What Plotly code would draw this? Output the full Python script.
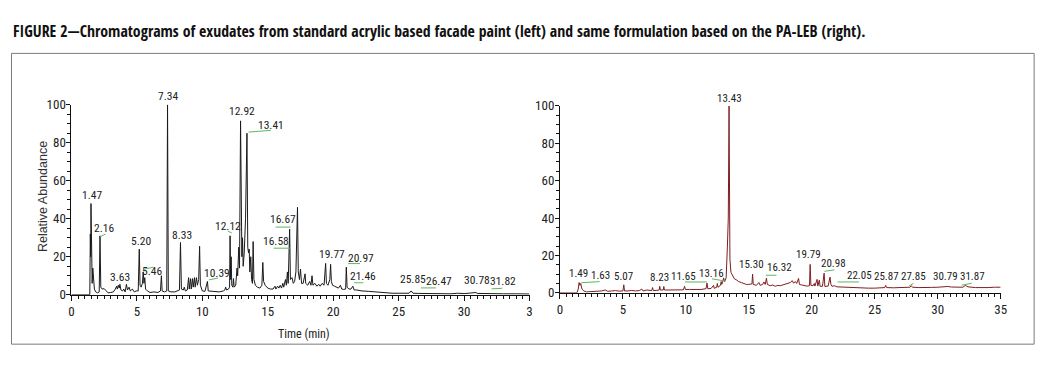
import plotly.graph_objects as go

# ---------------- data ----------------
title_text = ("FIGURE 2\u2014Chromatograms of exudates from standard acrylic based facade paint (left) "
              "and same formulation based on the PA-LEB (right).")

left_time = [0, 1.40, 1.44, 1.47, 1.49, 1.53, 1.58, 1.63, 1.68, 1.75, 1.85, 2.0, 2.12, 2.18, 2.24, 2.35, 2.5, 2.65,
             2.8, 3.0, 3.2, 3.35, 3.45, 3.5, 3.58, 3.65, 3.7, 3.78, 3.9, 4.0, 4.1, 4.2, 4.28, 4.4, 4.5, 4.65, 4.8,
             4.95, 5.1, 5.18, 5.24, 5.32, 5.42, 5.48, 5.54, 5.6, 5.66, 5.8, 6.0, 6.3, 6.6, 6.8, 6.87, 6.93, 7.1,
             7.28, 7.34, 7.40, 7.6, 7.9, 8.1, 8.25, 8.33, 8.4, 8.55, 8.62, 8.7, 8.85, 8.95, 9.0, 9.1, 9.15, 9.25,
             9.3, 9.4, 9.45, 9.55, 9.62, 9.72, 9.79, 9.85, 10.0, 10.2, 10.39, 10.45, 10.7, 11.0, 11.3, 11.6, 11.72,
             11.78, 11.85, 12.0, 12.08, 12.12, 12.16, 12.2, 12.25, 12.33, 12.38, 12.43, 12.55, 12.65, 12.7, 12.78,
             12.84, 12.92, 12.97, 13.02, 13.07, 13.12, 13.2, 13.3, 13.41, 13.47, 13.53, 13.58, 13.63, 13.7, 13.76,
             13.83, 13.88, 13.94, 14.05, 14.2, 14.4, 14.55, 14.62, 14.68, 14.8, 15.0, 15.2, 15.4, 15.55, 15.62,
             15.75, 15.85, 15.95, 16.05, 16.15, 16.22, 16.35, 16.42, 16.5, 16.56, 16.67, 16.73, 16.85, 16.95, 17.05,
             17.15, 17.27, 17.33, 17.42, 17.5, 17.58, 17.7, 17.85, 17.9, 18.05, 18.2, 18.3, 18.38, 18.45, 18.6,
             18.75, 18.9, 19.0, 19.15, 19.3, 19.42, 19.48, 19.6, 19.74, 19.8, 19.86, 19.95, 20.1, 20.25, 20.4,
             20.55, 20.65, 20.8, 20.95, 21.0, 21.06, 21.2, 21.35, 21.5, 21.6, 21.8, 22.2, 22.7, 23.2, 23.6, 24.0,
             24.5, 25.0, 25.8, 25.95, 26.1, 26.5, 27.0, 28.0, 29.0, 29.5, 30.0, 30.5, 30.9, 31.0, 31.5, 32.0, 33.0,
             34.0, 35.0]
left_abund = [0, 0, 32, 20, 48, 8, 6, 14, 8, 3, 1.5, 1, 1.5, 31, 4, 3, 3.2, 2,
              1, 1.2, 1.5, 3, 4.5, 3, 5, 3.5, 5.5, 2.5, 2, 3, 1.5, 5.5, 2.5, 4, 2, 3, 1.5,
              2, 2, 24, 5, 4, 6, 12, 6, 9, 3, 2, 1.2, 1.5, 1.2, 2, 10, 2, 1.5,
              2, 100, 2, 1.5, 1.5, 2, 2.5, 27.5, 3, 2.5, 4, 2, 2.5, 9, 3, 8.5, 3, 8.5,
              4, 9, 4, 9, 5, 8, 25.5, 5, 2, 1.8, 7, 2, 1.8, 1.8, 1.5, 2, 2.5,
              4, 2.5, 3, 4, 31, 8, 20, 5, 4, 8.5, 4, 5, 14, 10, 25,
              14, 91.5, 60, 20, 30, 15, 22, 40, 85, 25, 22, 24, 12, 20, 8,
              6, 28, 8, 5, 4, 3.5, 5, 17, 7, 5, 3.5, 3, 3, 4.5, 3,
              4.5, 3.5, 5, 3.5, 6, 4, 8, 5, 12, 6, 34.5, 8, 9, 6, 7,
              12, 46, 12, 8, 13.5, 6, 6, 11, 6, 5, 7, 5, 10, 5, 6,
              4.5, 5.5, 4.5, 6, 5, 16.5, 6, 5, 8, 16, 7, 5, 4.5, 4, 3.5,
              5, 3, 2.8, 3, 14.5, 4, 3, 3, 4.5, 2.5, 2.5, 2, 1.8, 1.5, 1.2, 1,
              0.8, 0.8, 0.8, 2, 0.8, 0.7, 0.6, 0.6, 0.5, 0.8, 0.6, 0.9, 1.2, 0.7, 0.6, 0.6, 0.5,
              0.5, 0.4]

right_time = [0, 1.35, 1.45, 1.52, 1.58, 1.65, 1.75, 1.9, 2.1, 2.4, 2.7, 3.0, 3.3, 3.6, 3.8, 4.1, 4.4, 4.7, 5.0,
              5.07, 5.13, 5.4, 5.7, 6.0, 6.3, 6.5, 6.6, 6.9, 7.3, 7.35, 7.42, 7.7, 7.88, 7.92, 7.98, 8.2, 8.25,
              8.3, 8.6, 9.0, 9.4, 9.8, 9.9, 9.96, 10.3, 10.8, 11.2, 11.6, 11.68, 11.74, 12.0, 12.2, 12.25, 12.45,
              12.5, 12.55, 12.75, 12.8, 12.85, 12.95, 13.0, 13.08, 13.15, 13.2, 13.3, 13.37, 13.43, 13.5, 13.58,
              13.7, 13.85, 14.0, 14.2, 14.4, 14.6, 14.8, 15.0, 15.25, 15.3, 15.35, 15.6, 15.8, 15.9, 16.1, 16.2,
              16.3, 16.4, 16.47, 16.7, 16.9, 17.1, 17.3, 17.5, 17.7, 17.9, 18.1, 18.3, 18.45, 18.55, 18.7, 18.8,
              18.95, 19.02, 19.2, 19.4, 19.6, 19.82, 19.87, 19.93, 20.1, 20.2, 20.25, 20.42, 20.48, 20.6, 20.66,
              20.85, 20.98, 21.04, 21.3, 21.45, 21.52, 21.6, 21.8, 22.0, 22.5, 23.0, 23.5, 24.0, 24.5, 25.0, 25.5,
              25.8, 25.87, 25.95, 26.5, 27.0, 27.5, 27.8, 27.9, 28.0, 28.5, 29.0, 29.5, 30.0, 30.5, 30.8, 31.1,
              31.5, 32.0, 32.2, 32.4, 33.0, 33.5, 34.0, 34.5, 35.0]
right_abund = [0, 0, 2, 5.5, 4, 5, 2, 1, 0.5, 0.6, 0.5, 0.8, 1, 1.5, 0.8, 1, 1.2, 0.9, 1,
               4.3, 1, 1, 1.3, 1, 1.2, 2, 1, 1.5, 1.2, 2.8, 1.2, 1.3, 1.5, 3.5, 1.5, 1.5, 3.4,
               1.5, 1.5, 1.6, 1.5, 1.6, 3.5, 1.8, 1.8, 1.7, 1.8, 2.2, 5.2, 2.2, 2.3, 4, 2.4, 3,
               5, 3, 4, 6, 4.5, 6.5, 8, 6, 7.5, 8, 25, 40, 100, 18, 11,
               9, 7.5, 7, 6, 5.5, 5, 4.5, 4.5, 4.8, 10, 4.5, 4, 5.5, 4, 4.5, 5.8,
               4.5, 7.8, 4.5, 3.8, 4.2, 3.5, 4, 3.8, 4.2, 4.8, 5, 5.5, 6.5, 5.2, 6, 5,
               7.7, 4.5, 4.2, 3.8, 3.6, 3.8, 15.2, 4, 3.8, 5, 3.6, 7.2, 3.6, 6.8, 3.5,
               3.5, 10.5, 3.4, 3.6, 8.4, 4.5, 3.5, 3.8, 3.2, 3, 2.8, 2.6, 2.5, 2.5, 2.5, 2.6,
               2.8, 4, 2.8, 2.7, 2.8, 2.8, 3, 3.8, 3, 2.8, 2.7, 2.9, 3, 3.2, 3.4, 3.1,
               2.9, 3, 4, 3.2, 2.8, 2.7, 2.8, 3, 3]

# peak labels (retention times) and where they sit (data units)
left_labels = ["7.34", "12.92", "13.41", "1.47", "2.16", "3.63", "5.20", "5.46", "8.33", "10.39", "12.12",
               "16.67", "16.58", "19.77", "20.97", "21.46", "25.85", "26.47", "30.78", "31.82"]
left_label_x = [7.4, 13.05, 15.23, 1.57, 2.52, 3.74, 5.29, 6.17, 8.41, 11.15, 11.97,
                16.2, 15.6, 19.9, 22.1, 22.3, 26.12, 28.1, 30.98, 33.0]
left_label_y = [104.4, 96.6, 89.5, 52.3, 34.9, 9.2, 28.4, 12.5, 31.5, 11.5, 36.2,
                39.6, 28.1, 21.7, 19.3, 9.8, 8.2, 7.2, 7.9, 7.2]

right_labels = ["13.43", "1.49", "1.63", "5.07", "8.23", "11.65", "13.16", "15.30", "16.32", "19.79",
                "20.98", "22.05", "25.87", "27.85", "30.79", "31.87"]
right_label_x = [13.43, 1.45, 3.2, 5.05, 7.9, 9.84, 12.03, 15.25, 17.4, 19.77,
                 21.74, 23.78, 25.91, 28.1, 30.65, 32.75]
right_label_y = [104.1, 10.6, 9.4, 8.6, 8.4, 8.9, 10.6, 14.9, 13.4, 20.6,
                 15.5, 9.2, 8.5, 8.5, 8.5, 8.5]

# green leader ticks under some labels: (x0, y0, x1, y1)
left_leaders = [(2.2, 30.5, 2.6, 32), (5.58, 13.5, 6.26, 14.5), (10.5, 7.8, 11.2, 8.8), (11.95, 33.5, 12.25, 32.5),
                (13.54, 85.6, 15.23, 86.5), (15.45, 24.5, 16.74, 24.5), (15.6, 35.6, 16.74, 35.6),
                (21.14, 16.4, 22.05, 16.4), (21.6, 6.3, 22.3, 6.3), (26.7, 3.6, 27.85, 3.6), (32.1, 3.1, 32.9, 3.4)]
right_leaders = [(1.7, 5.4, 3.15, 6.0), (9.92, 5.8, 11.68, 5.8), (12.07, 7.5, 13.12, 6.3), (16.35, 9.4, 17.2, 9.4),
                 (21.0, 11.5, 21.8, 12.3), (22.05, 5.8, 23.75, 5.8), (27.74, 3.8, 28.08, 5.0), (31.9, 4.1, 32.7, 5.1)]

x_ticks = [0, 5, 10, 15, 20, 25, 30, 35]
left_x_ticktext = ["0", "5", "10", "15", "20", "25", "30", "3"]
right_x_ticktext = ["0", "5", "10", "15", "20", "25", "30", "35"]
y_ticks = [0, 20, 40, 60, 80, 100]
Y_MAX = 100

# ---------------- figure ----------------
NARROW = "Roboto Condensed, Liberation Sans Narrow, Arial Narrow, sans-serif"
TITLE_FONT = "Open Sans Condensed, Roboto Condensed, sans-serif"
W, H = 1050, 372
OFF = 8  # the page body adds an 8px margin; positions below are in screenshot pixels


def px(x):
    return (x - OFF) / W


def py(y):
    return (H - (y - OFF)) / H


fig = go.Figure()
fig.add_trace(go.Scatter(x=left_time, y=left_abund, mode="lines", line=dict(color="#1a1a1a", width=1),
                         xaxis="x", yaxis="y", hoverinfo="skip"))
fig.add_trace(go.Scatter(x=right_time, y=right_abund, mode="lines", line=dict(color="#7d1f22", width=1),
                         xaxis="x2", yaxis="y2", hoverinfo="skip"))

axis_common = dict(showgrid=False, zeroline=False, showline=True, linecolor="#111", linewidth=1,
                   ticks="outside", tickcolor="#111", tickwidth=1,
                   tickfont=dict(family=NARROW, size=13, color="#222"))

fig.update_layout(
    width=W, height=H, autosize=False, margin=dict(l=0, r=0, t=0, b=0),
    paper_bgcolor="white", plot_bgcolor="white", showlegend=False,
    xaxis=dict(domain=[px(69), px(531)], range=[0, 35], anchor="y", tickvals=x_ticks, ticktext=left_x_ticktext,
               ticklen=5, minor=dict(dtick=0.5, ticks="outside", ticklen=3, tickcolor="#111"), **axis_common),
    yaxis=dict(domain=[py(299.5), py(101.5)], range=[0, Y_MAX], anchor="x", tickvals=y_ticks,
               ticklen=4, ticklabelstandoff=-2,
               minor=dict(dtick=5, ticks="outside", ticklen=3, tickcolor="#111"), **axis_common),
    xaxis2=dict(domain=[px(561.7), px(1006.2)], range=[0, 35], anchor="y2", tickvals=x_ticks,
                ticktext=right_x_ticktext, ticklen=5,
                minor=dict(dtick=0.5, ticks="outside", ticklen=3, tickcolor="#111"), **axis_common),
    yaxis2=dict(domain=[py(297.5), py(102.7)], range=[0, Y_MAX], anchor="x2", tickvals=y_ticks,
                ticklen=4, ticklabelstandoff=-2,
                minor=dict(dtick=5, ticks="outside", ticklen=3, tickcolor="#111"), **axis_common),
)

shapes = [dict(type="rect", xref="paper", yref="paper", x0=px(8.5), x1=px(1040), y0=py(351), y1=py(48),
               line=dict(color="#7a7a7a", width=1), fillcolor="rgba(0,0,0,0)", layer="below")]
for (x0, y0, x1, y1) in left_leaders:
    shapes.append(dict(type="line", xref="x", yref="y", x0=x0, y0=y0, x1=x1, y1=y1,
                       line=dict(color="#5cb85c", width=1)))
for (x0, y0, x1, y1) in right_leaders:
    shapes.append(dict(type="line", xref="x2", yref="y2", x0=x0, y0=y0, x1=x1, y1=y1,
                       line=dict(color="#5cb85c", width=1)))
fig.update_layout(shapes=shapes)

annotations = [
    dict(text="<b>" + title_text + "</b>", xref="paper", yref="paper", x=px(8), y=py(25),
         xanchor="left", yanchor="middle", showarrow=False,
         font=dict(family=TITLE_FONT, size=15.8, color="#111")),
    dict(text="Relative Abundance", xref="paper", yref="paper", x=px(41), y=py(197), textangle=-90,
         xanchor="center", yanchor="middle", showarrow=False,
         font=dict(family="Liberation Sans, Arial, sans-serif", size=12.5, color="#333")),
    dict(text="Time (min)", xref="paper", yref="paper", x=px(304), y=py(340),
         xanchor="center", yanchor="middle", showarrow=False,
         font=dict(family=NARROW, size=12, color="#222")),
]
# labels are placed against each axis domain (fraction of the 0-100 range) so those above 100 stay visible
for t, xv, yv in zip(left_labels, left_label_x, left_label_y):
    annotations.append(dict(text=t, x=xv, y=yv / Y_MAX, xref="x", yref="y domain", showarrow=False,
                            xanchor="center", yanchor="middle",
                            font=dict(family=NARROW, size=11.5, color="#222")))
for t, xv, yv in zip(right_labels, right_label_x, right_label_y):
    annotations.append(dict(text=t, x=xv, y=yv / Y_MAX, xref="x2", yref="y2 domain", showarrow=False,
                            xanchor="center", yanchor="middle",
                            font=dict(family=NARROW, size=11, color="#222")))
fig.update_layout(annotations=annotations)

fig.write_html("out.html")
